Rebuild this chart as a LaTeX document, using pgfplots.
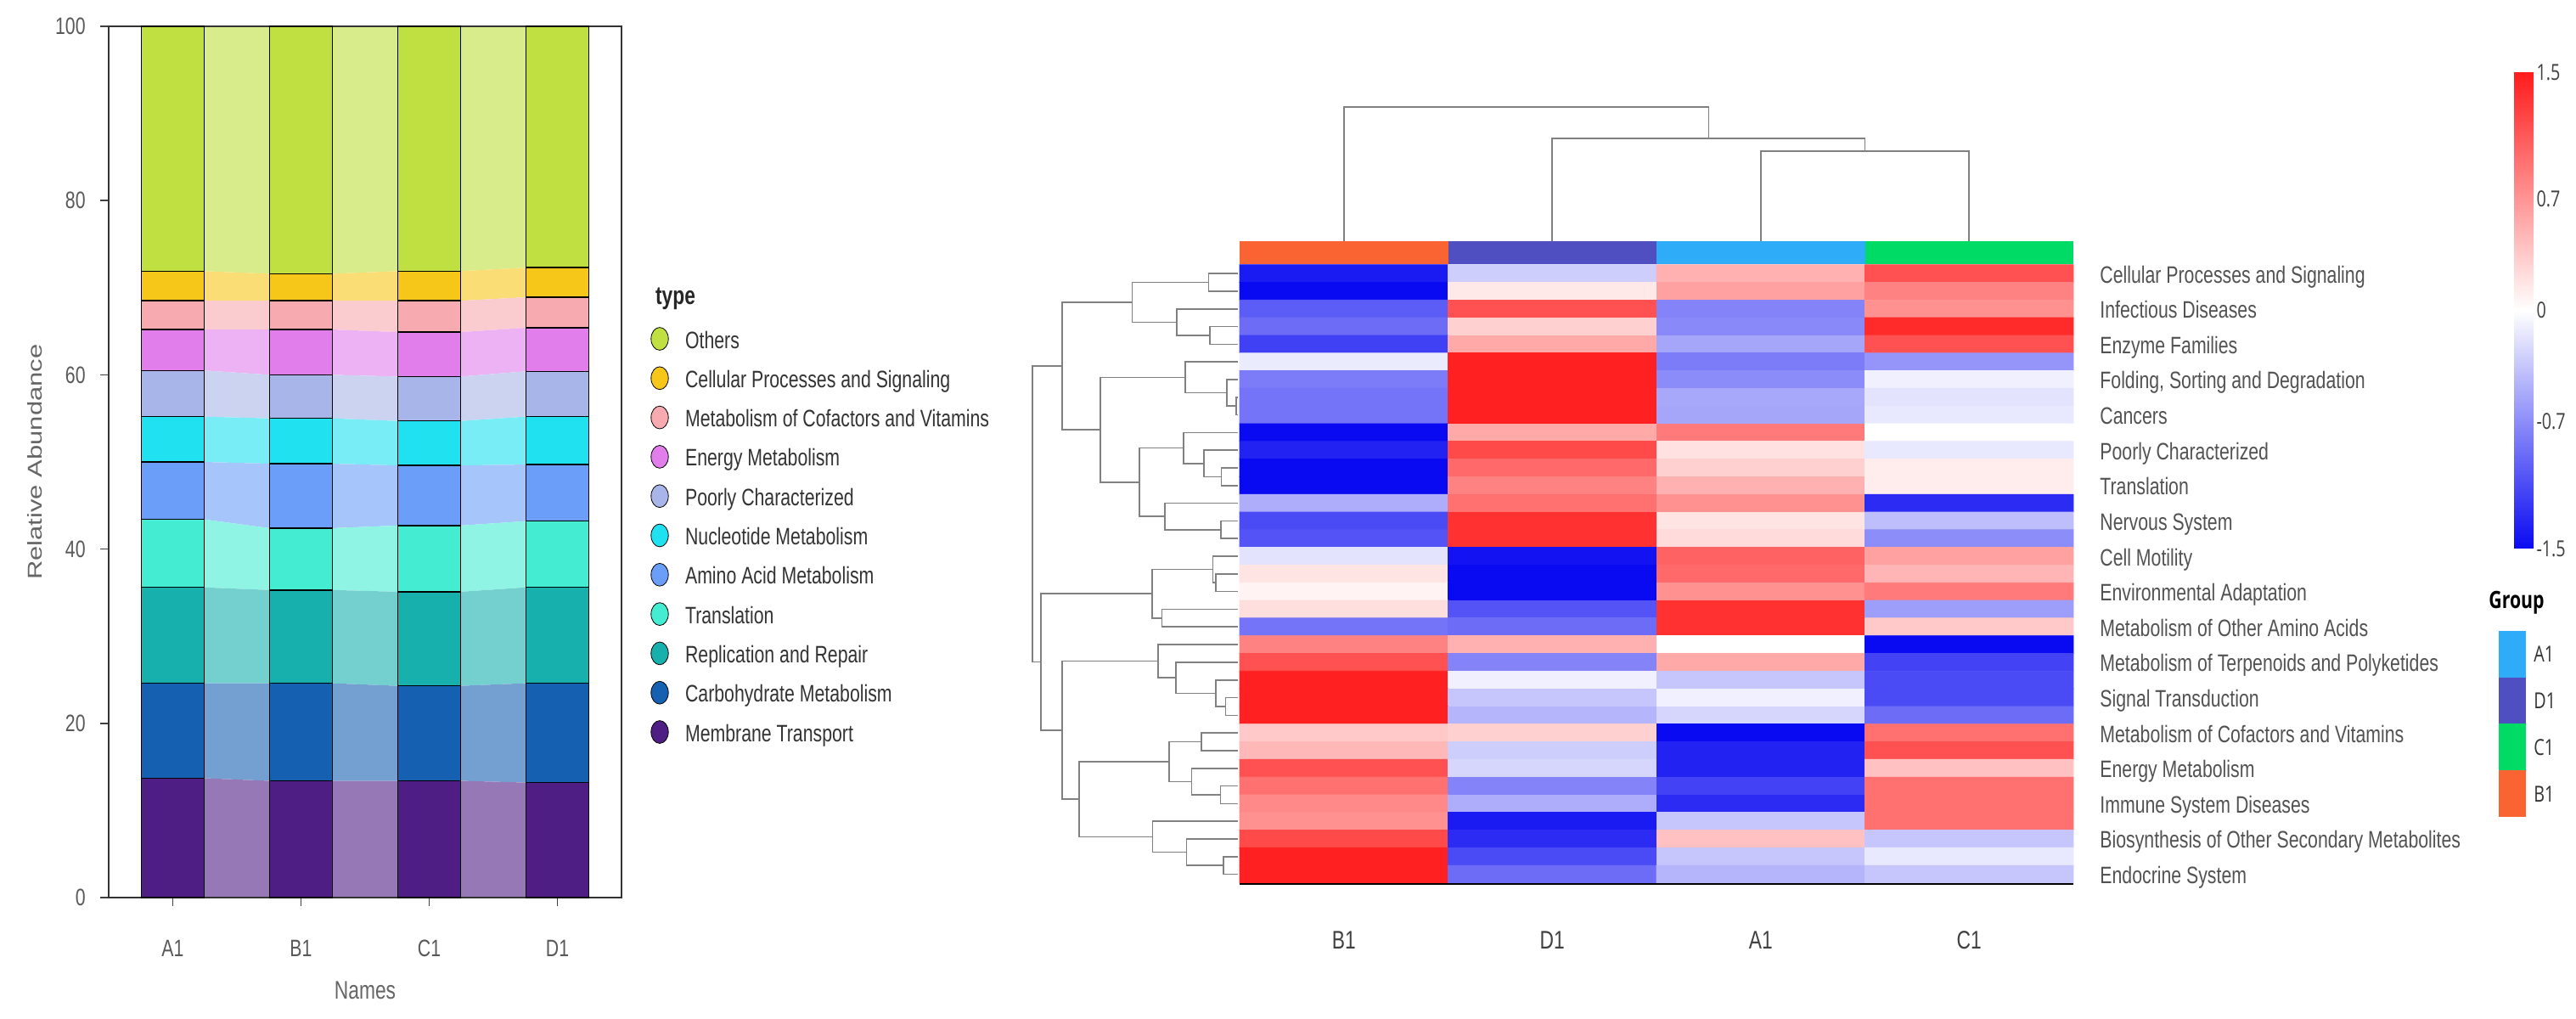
\documentclass[border=0pt]{standalone}
\usepackage{fontspec}
\usepackage{graphicx}
\usepackage{pgfplots}
\pgfplotsset{compat=1.18}
\usepackage{pgfplotstable}
\setmainfont{Liberation Sans}[FakeStretch=0.76]
\newfontfamily\plainfont{Liberation Sans}
\newfontfamily\osans{Open Sans}[FakeStretch=0.76]
\newcommand{\ftick}{\fontsize{14}{16}\selectfont}
\newcommand{\flab}{\fontsize{15}{18}\selectfont}

\definecolor{cMT}{HTML}{4F1E84}
\definecolor{cCM}{HTML}{1660B2}
\definecolor{cRR}{HTML}{17B0AD}
\definecolor{cTR}{HTML}{44EDD2}
\definecolor{cAA}{HTML}{6B9EF8}
\definecolor{cNM}{HTML}{1FE1EF}
\definecolor{cPC}{HTML}{A8B5E8}
\definecolor{cEM}{HTML}{E17EEC}
\definecolor{cCV}{HTML}{F7AAB0}
\definecolor{cCP}{HTML}{F6C618}
\definecolor{cOT}{HTML}{C0DF40}
\definecolor{annB1}{HTML}{FA6432}
\definecolor{annD1}{HTML}{4F4FC2}
\definecolor{annA1}{HTML}{2EACF8}
\definecolor{annC1}{HTML}{00DB66}
\definecolor{dendgray}{HTML}{808080}

\pgfplotstableread{
x MT CM RR TR AA NM PC EM CV CP OT
0 13.7 10.9 11.0 7.8 6.6 5.2 5.3 4.7 3.3 3.4 28.1
1 13.4 11.2 10.7 7.1 7.4 5.2 5.0 5.2 3.3 3.1 28.4
2 13.4 10.9 10.8 7.6 6.9 5.1 5.1 5.1 3.6 3.4 28.1
3 13.2 11.4 11.0 7.6 6.5 5.5 5.2 5.0 3.5 3.4 27.7
}\bars

\pgfplotstableread{
x MT CM RR TR AA NM PC EM CV CP OT
0.245 13.7 10.9 11.0 7.8 6.6 5.2 5.3 4.7 3.3 3.4 28.1
0.755 13.4 11.2 10.7 7.1 7.4 5.2 5.0 5.2 3.3 3.1 28.4
1.245 13.4 11.2 10.7 7.1 7.4 5.2 5.0 5.2 3.3 3.1 28.4
1.755 13.4 10.9 10.8 7.6 6.9 5.1 5.1 5.1 3.6 3.4 28.1
2.245 13.4 10.9 10.8 7.6 6.9 5.1 5.1 5.1 3.6 3.4 28.1
2.755 13.2 11.4 11.0 7.6 6.5 5.5 5.2 5.0 3.5 3.4 27.7
}\flows

\pgfplotsset{dend/.style={draw=dendgray, line width=0.8pt, mark=none, forget plot}}

\begin{document}
\begin{tikzpicture}
\useasboundingbox (0,0) rectangle (1517pt,599.5pt);

% ---------- auxiliary axis in pixel units (legends, labels) ----------
\begin{axis}[at={(0pt,0pt)}, anchor=south west, scale only axis,
  width=1517pt, height=599.5pt, xmin=0, xmax=3034, ymin=0, ymax=1199,
  y dir=reverse, hide axis, clip=false]
  \addplot[only marks, mark=*, mark size=6.7pt, mark options={fill=cOT, draw=none, xscale=0.76}, forget plot] coordinates {(777,399)};
  \addplot[only marks, mark=*, mark size=6.7pt, mark options={fill=cCP, draw=none, xscale=0.76}, forget plot] coordinates {(777,445.3)};
  \addplot[only marks, mark=*, mark size=6.7pt, mark options={fill=cCV, draw=none, xscale=0.76}, forget plot] coordinates {(777,491.6)};
  \addplot[only marks, mark=*, mark size=6.7pt, mark options={fill=cEM, draw=none, xscale=0.76}, forget plot] coordinates {(777,537.9)};
  \addplot[only marks, mark=*, mark size=6.7pt, mark options={fill=cPC, draw=none, xscale=0.76}, forget plot] coordinates {(777,584.2)};
  \addplot[only marks, mark=*, mark size=6.7pt, mark options={fill=cNM, draw=none, xscale=0.76}, forget plot] coordinates {(777,630.5)};
  \addplot[only marks, mark=*, mark size=6.7pt, mark options={fill=cAA, draw=none, xscale=0.76}, forget plot] coordinates {(777,676.8)};
  \addplot[only marks, mark=*, mark size=6.7pt, mark options={fill=cTR, draw=none, xscale=0.76}, forget plot] coordinates {(777,723.1)};
  \addplot[only marks, mark=*, mark size=6.7pt, mark options={fill=cRR, draw=none, xscale=0.76}, forget plot] coordinates {(777,769.4)};
  \addplot[only marks, mark=*, mark size=6.7pt, mark options={fill=cCM, draw=none, xscale=0.76}, forget plot] coordinates {(777,815.7)};
  \addplot[only marks, mark=*, mark size=6.7pt, mark options={fill=cMT, draw=none, xscale=0.76}, forget plot] coordinates {(777,862)};
  \node[anchor=base west, font=\bfseries\fontsize{15}{18}\selectfont, text=black!85] at (axis cs:765,358) {type};
  \begin{scope}[every node/.style={anchor=base west, font=\ftick, text=black!80}]
  \node at (axis cs:800,410) {Others};
  \node at (axis cs:800,456.3) {Cellular Processes and Signaling};
  \node at (axis cs:800,502.6) {Metabolism of Cofactors and Vitamins};
  \node at (axis cs:800,548.9) {Energy Metabolism};
  \node at (axis cs:800,595.2) {Poorly Characterized};
  \node at (axis cs:800,641.5) {Nucleotide Metabolism};
  \node at (axis cs:800,687.8) {Amino Acid Metabolism};
  \node at (axis cs:800,734.1) {Translation};
  \node at (axis cs:800,780.4) {Replication and Repair};
  \node at (axis cs:800,826.7) {Carbohydrate Metabolism};
  \node at (axis cs:800,873) {Membrane Transport};
  \end{scope}
  \node[rotate=90, text=black!60, inner sep=0pt] at (axis cs:41.5,544) {\scalebox{1}[0.76]{\plainfont\fontsize{15.5}{18}\selectfont Relative Abundance}};
  \node[text=black!60, font=\flab, inner sep=0pt] at (axis cs:430,1166) {Names};
  % Group legend
  \node[font=\osans\bfseries\fontsize{14}{17}\selectfont, text=black, inner sep=0pt] at (axis cs:2964,710) {Group};
  \addplot[fill=annA1, draw=none, forget plot] coordinates {(2943,743)(2975,743)(2975,798)(2943,798)} -- cycle;
  \addplot[fill=annD1, draw=none, forget plot] coordinates {(2943,798)(2975,798)(2975,852)(2943,852)} -- cycle;
  \addplot[fill=annC1, draw=none, forget plot] coordinates {(2943,852)(2975,852)(2975,907)(2943,907)} -- cycle;
  \addplot[fill=annB1, draw=none, forget plot] coordinates {(2943,907)(2975,907)(2975,962)(2943,962)} -- cycle;
  \begin{scope}[every node/.style={anchor=west, font=\osans\fontsize{13}{15}\selectfont, text=black!80, inner sep=0pt}]
  \node at (axis cs:2984,770) {A1};
  \node at (axis cs:2984,825) {D1};
  \node at (axis cs:2984,880) {C1};
  \node at (axis cs:2984,935) {B1};
  \end{scope}
\end{axis}

% ---------- flows between bars ----------
\begin{axis}[at={(64pt,71pt)}, anchor=south west, scale only axis,
  width=302pt, height=513pt, xmin=-0.5, xmax=3.5, ymin=0, ymax=100,
  hide axis, stack plots=y]
  \addplot[fill=cMT!60, draw=none] table[x=x,y=MT]{\flows} \closedcycle;
  \addplot[fill=cCM!60, draw=none] table[x=x,y=CM]{\flows} \closedcycle;
  \addplot[fill=cRR!60, draw=none] table[x=x,y=RR]{\flows} \closedcycle;
  \addplot[fill=cTR!60, draw=none] table[x=x,y=TR]{\flows} \closedcycle;
  \addplot[fill=cAA!60, draw=none] table[x=x,y=AA]{\flows} \closedcycle;
  \addplot[fill=cNM!60, draw=none] table[x=x,y=NM]{\flows} \closedcycle;
  \addplot[fill=cPC!60, draw=none] table[x=x,y=PC]{\flows} \closedcycle;
  \addplot[fill=cEM!60, draw=none] table[x=x,y=EM]{\flows} \closedcycle;
  \addplot[fill=cCV!60, draw=none] table[x=x,y=CV]{\flows} \closedcycle;
  \addplot[fill=cCP!60, draw=none] table[x=x,y=CP]{\flows} \closedcycle;
  \addplot[fill=cOT!60, draw=none] table[x=x,y=OT]{\flows} \closedcycle;
\end{axis}

% ---------- stacked bars ----------
\begin{axis}[at={(64pt,71pt)}, anchor=south west, scale only axis,
  width=302pt, height=513pt, xmin=-0.5, xmax=3.5, ymin=0, ymax=100,
  ybar stacked, bar width=0.49,
  xtick={0,1,2,3}, xticklabels={A1,B1,C1,D1},
  ytick={0,20,40,60,80,100}, yticklabels={0,20,40,60,80,100},
  tick align=outside, major tick length=5pt, xtick pos=bottom, ytick pos=left,
  axis line style={draw=black!80, line width=1pt},
  tick style={draw=black!75, line width=0.8pt},
  xticklabel style={font=\ftick, text=black!65, inner sep=0pt, anchor=north, yshift=-20pt},
  yticklabel style={font=\ftick, text=black!65, inner sep=0pt, anchor=east, xshift=-8.5pt}]
  \addplot[fill=cMT, draw=black, line width=0.7pt] table[x=x,y=MT]{\bars};
  \addplot[fill=cCM, draw=black, line width=0.7pt] table[x=x,y=CM]{\bars};
  \addplot[fill=cRR, draw=black, line width=0.7pt] table[x=x,y=RR]{\bars};
  \addplot[fill=cTR, draw=black, line width=0.7pt] table[x=x,y=TR]{\bars};
  \addplot[fill=cAA, draw=black, line width=0.7pt] table[x=x,y=AA]{\bars};
  \addplot[fill=cNM, draw=black, line width=0.7pt] table[x=x,y=NM]{\bars};
  \addplot[fill=cPC, draw=black, line width=0.7pt] table[x=x,y=PC]{\bars};
  \addplot[fill=cEM, draw=black, line width=0.7pt] table[x=x,y=EM]{\bars};
  \addplot[fill=cCV, draw=black, line width=0.7pt] table[x=x,y=CV]{\bars};
  \addplot[fill=cCP, draw=black, line width=0.7pt] table[x=x,y=CP]{\bars};
  \addplot[fill=cOT, draw=black, line width=0.7pt] table[x=x,y=OT]{\bars};
\end{axis}

% ---------- heatmap ----------
\begin{axis}[at={(730pt,79.5pt)}, anchor=south west, scale only axis,
  width=491pt, height=364.15pt,
  xmin=-0.5, xmax=3.5, ymin=-0.5, ymax=34.5, y dir=reverse, clip=false,
  axis line style={draw=none}, major tick length=0pt,
  xtick={0,1,2,3}, xticklabels={B1,D1,A1,C1},
  ytick={0,2,...,34},
  yticklabels={Cellular Processes and Signaling, Infectious Diseases, Enzyme Families,
    {Folding, Sorting and Degradation}, Cancers, Poorly Characterized, Translation,
    Nervous System, Cell Motility, Environmental Adaptation, Metabolism of Other Amino Acids,
    Metabolism of Terpenoids and Polyketides, Signal Transduction,
    Metabolism of Cofactors and Vitamins, Energy Metabolism, Immune System Diseases,
    Biosynthesis of Other Secondary Metabolites, Endocrine System},
  yticklabel pos=right,
  xticklabel style={font=\flab, text=black!75, inner sep=0pt, anchor=north, yshift=-28pt},
  yticklabel style={font=\ftick, text=black!68, inner sep=0pt, anchor=base west, xshift=15.5pt, yshift=-5.5pt},
  colormap={bwr}{rgb255=(10,10,242) rgb255=(255,255,255) rgb255=(255,28,28)},
  point meta min=-1.5, point meta max=1.5,
  colorbar,
  colorbar style={at={(parent axis.north east)}, anchor=north west,
    xshift=251pt, yshift=113.35pt, width=11.5pt, height=280.5pt, scale only axis,
    ytick={-1.5,-0.7,0,0.7,1.5}, yticklabels={-1.5,-0.7,0,0.7,1.5},
    yticklabel pos=right,
    yticklabel style={font=\osans\fontsize{13}{15}\selectfont, text=black!75, inner sep=0pt, anchor=west, xshift=1.5pt},
    major tick length=0pt, axis line style={draw=none}}]
  \addplot[matrix plot*, mesh/cols=4, point meta=explicit] table[x=x, y=y, meta=z] {
x y z
0 0 -1.40
1 0 -0.30
2 0 0.52
3 0 1.15
0 1 -1.50
1 1 0.15
2 1 0.62
3 1 0.83
0 2 -1.00
1 2 1.15
2 2 -0.75
3 2 0.73
0 3 -0.90
1 3 0.31
2 3 -0.72
3 3 1.41
0 4 -1.17
1 4 0.57
2 4 -0.55
3 4 1.15
0 5 -0.12
1 5 1.47
2 5 -0.80
3 5 -0.65
0 6 -0.80
1 6 1.47
2 6 -0.71
3 6 -0.09
0 7 -0.85
1 7 1.47
2 7 -0.53
3 7 -0.17
0 8 -0.85
1 8 1.47
2 8 -0.55
3 8 -0.14
0 9 -1.50
1 9 0.57
2 9 0.88
3 9 0.00
0 10 -1.35
1 10 1.20
2 10 0.20
3 10 -0.14
0 11 -1.50
1 11 0.99
2 11 0.31
3 11 0.12
0 12 -1.50
1 12 0.83
2 12 0.52
3 12 0.12
0 13 -0.50
1 13 0.94
2 13 0.73
3 13 -1.30
0 14 -1.10
1 14 1.36
2 14 0.18
3 14 -0.40
0 15 -1.05
1 15 1.36
2 15 0.24
3 15 -0.70
0 16 -0.17
1 16 -1.45
2 16 1.04
3 16 0.62
0 17 0.18
1 17 -1.50
2 17 0.99
3 17 0.49
0 18 0.08
1 18 -1.50
2 18 0.73
3 18 0.88
0 19 0.22
1 19 -1.05
2 19 1.36
3 19 -0.60
0 20 -0.85
1 20 -0.90
2 20 1.36
3 20 0.36
0 21 0.83
1 21 0.52
2 21 0.00
3 21 -1.50
0 22 1.15
1 22 -0.75
2 22 0.57
3 22 -1.15
0 23 1.47
1 23 -0.09
2 23 -0.35
3 23 -1.10
0 24 1.47
1 24 -0.35
2 24 -0.09
3 24 -1.10
0 25 1.47
1 25 -0.45
2 25 -0.25
3 25 -0.90
0 26 0.36
1 26 0.31
2 26 -1.50
3 26 0.94
0 27 0.47
1 27 -0.30
2 27 -1.35
3 27 1.15
0 28 1.15
1 28 -0.25
2 28 -1.35
3 28 0.41
0 29 0.94
1 29 -0.75
2 29 -1.15
3 29 0.94
0 30 0.78
1 30 -0.50
2 30 -1.30
3 30 0.94
0 31 0.73
1 31 -1.40
2 31 -0.35
3 31 0.94
0 32 1.20
1 32 -1.30
2 32 0.41
3 32 -0.35
0 33 1.47
1 33 -1.10
2 33 -0.35
3 33 -0.14
0 34 1.47
1 34 -0.90
2 34 -0.45
3 34 -0.35
};
  % bottom line
  \addplot[black, line width=1.2pt, mark=none, forget plot] coordinates {(-0.5,34.55)(3.5,34.55)};
  % group annotation bar
  \addplot[fill=annB1, draw=none, forget plot] coordinates {(-0.5,-1.831)(0.5,-1.831)(0.5,-0.548)(-0.5,-0.548)} -- cycle;
  \addplot[fill=annD1, draw=none, forget plot] coordinates {(0.5,-1.831)(1.5,-1.831)(1.5,-0.548)(0.5,-0.548)} -- cycle;
  \addplot[fill=annA1, draw=none, forget plot] coordinates {(1.5,-1.831)(2.5,-1.831)(2.5,-0.548)(1.5,-0.548)} -- cycle;
  \addplot[fill=annC1, draw=none, forget plot] coordinates {(2.5,-1.831)(3.5,-1.831)(3.5,-0.548)(2.5,-0.548)} -- cycle;
  % column dendrogram
  \addplot[dend] coordinates {(2,-1.85)(2,-6.939)(3,-6.939)(3,-1.85)};
  \addplot[dend] coordinates {(1,-1.85)(1,-7.66)(2.5,-7.66)(2.5,-6.939)};
  \addplot[dend] coordinates {(0,-1.85)(0,-9.438)(1.75,-9.438)(1.75,-7.66)};
  % row dendrogram
  \addplot[dend] coordinates {(-0.508,0)(-0.6495,0)(-0.6495,1)(-0.508,1)};
  \addplot[dend] coordinates {(-0.508,3)(-0.6426,3)(-0.6426,4)(-0.508,4)};
  \addplot[dend] coordinates {(-0.508,2)(-0.8014,2)(-0.8014,3.5)(-0.6426,3.5)};
  \addplot[dend] coordinates {(-0.6495,0.5)(-1.0161,0.5)(-1.0161,2.75)(-0.8014,2.75)};
  \addplot[dend] coordinates {(-0.508,7)(-0.5163,7)(-0.5163,8)(-0.508,8)};
  \addplot[dend] coordinates {(-0.508,6)(-0.5611,6)(-0.5611,7.5)(-0.5163,7.5)};
  \addplot[dend] coordinates {(-0.508,5)(-0.7607,5)(-0.7607,6.75)(-0.5611,6.75)};
  \addplot[dend] coordinates {(-0.508,11)(-0.5884,11)(-0.5884,12)(-0.508,12)};
  \addplot[dend] coordinates {(-0.508,10)(-0.6711,10)(-0.6711,11.5)(-0.5884,11.5)};
  \addplot[dend] coordinates {(-0.508,9)(-0.7688,9)(-0.7688,10.75)(-0.6711,10.75)};
  \addplot[dend] coordinates {(-0.508,14)(-0.5908,14)(-0.5908,15)(-0.508,15)};
  \addplot[dend] coordinates {(-0.508,13)(-0.8597,13)(-0.8597,14.5)(-0.5908,14.5)};
  \addplot[dend] coordinates {(-0.7688,9.875)(-0.9819,9.875)(-0.9819,13.75)(-0.8597,13.75)};
  \addplot[dend] coordinates {(-0.7607,5.875)(-1.1692,5.875)(-1.1692,11.8125)(-0.9819,11.8125)};
  \addplot[dend] coordinates {(-1.0161,1.625)(-1.3526,1.625)(-1.3526,8.84375)(-1.1692,8.84375)};
  \addplot[dend] coordinates {(-0.508,17)(-0.6153,17)(-0.6153,18)(-0.508,18)};
  \addplot[dend] coordinates {(-0.508,16)(-0.6291,16)(-0.6291,17.5)(-0.6153,17.5)};
  \addplot[dend] coordinates {(-0.508,19)(-0.8735,19)(-0.8735,20)(-0.508,20)};
  \addplot[dend] coordinates {(-0.6291,16.75)(-0.9208,16.75)(-0.9208,19.5)(-0.8735,19.5)};
  \addplot[dend] coordinates {(-0.508,24)(-0.5680,24)(-0.5680,25)(-0.508,25)};
  \addplot[dend] coordinates {(-0.508,23)(-0.6153,23)(-0.6153,24.5)(-0.5680,24.5)};
  \addplot[dend] coordinates {(-0.508,22)(-0.8055,22)(-0.8055,23.75)(-0.6153,23.75)};
  \addplot[dend] coordinates {(-0.508,21)(-0.8910,21)(-0.8910,22.875)(-0.8055,22.875)};
  \addplot[dend] coordinates {(-0.508,26)(-0.6833,26)(-0.6833,27)(-0.508,27)};
  \addplot[dend] coordinates {(-0.508,29)(-0.5925,29)(-0.5925,30)(-0.508,30)};
  \addplot[dend] coordinates {(-0.508,28)(-0.7310,28)(-0.7310,29.5)(-0.5925,29.5)};
  \addplot[dend] coordinates {(-0.6833,26.5)(-0.8393,26.5)(-0.8393,28.75)(-0.7310,28.75)};
  \addplot[dend] coordinates {(-0.508,33)(-0.5786,33)(-0.5786,34)(-0.508,34)};
  \addplot[dend] coordinates {(-0.508,32)(-0.7554,32)(-0.7554,33.5)(-0.5786,33.5)};
  \addplot[dend] coordinates {(-0.508,31)(-0.9183,31)(-0.9183,32.75)(-0.7554,32.75)};
  \addplot[dend] coordinates {(-0.8393,27.625)(-1.2699,27.625)(-1.2699,31.875)(-0.9183,31.875)};
  \addplot[dend] coordinates {(-0.8910,21.9375)(-1.3526,21.9375)(-1.3526,29.75)(-1.2699,29.75)};
  \addplot[dend] coordinates {(-0.9208,18.125)(-1.453,18.125)(-1.453,25.84375)(-1.3526,25.84375)};
  \addplot[dend] coordinates {(-1.3526,5.234)(-1.494,5.234)(-1.494,21.984)(-1.453,21.984)};
\end{axis}
\end{tikzpicture}
\end{document}
